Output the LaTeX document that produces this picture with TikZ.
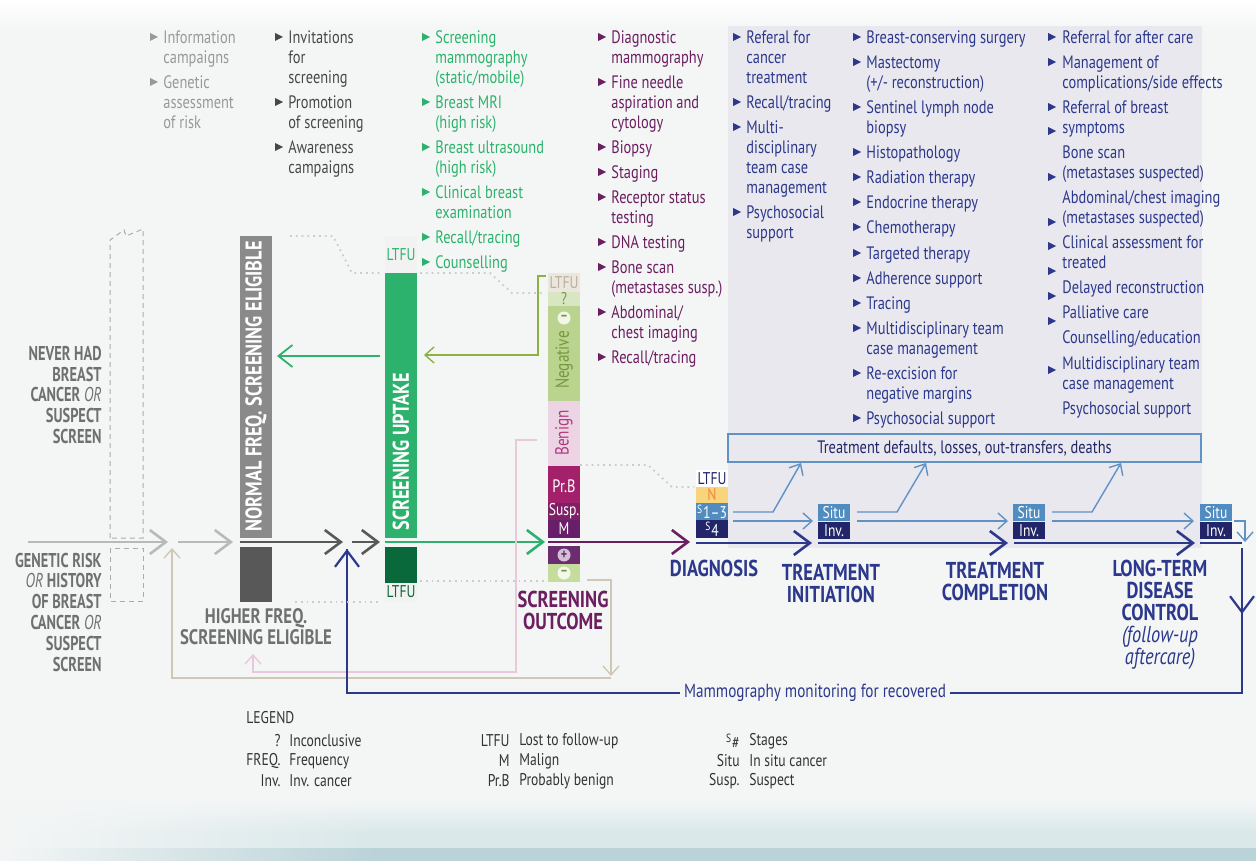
\documentclass[tikz,border=0pt]{standalone}
\usepackage{fontspec}
\setmainfont{PT Sans}[FakeStretch=0.8]
\newfontfamily\narrowfont{PT Sans}[FakeStretch=0.72]
\usetikzlibrary{arrows.meta,fadings}

\definecolor{bg}{RGB}{244,246,246}
\definecolor{panel}{RGB}{233,232,239}
\definecolor{bandl}{RGB}{218,232,234}
\definecolor{band}{RGB}{186,211,216}
\definecolor{paleg}{RGB}{152,152,152}
\definecolor{darkg}{RGB}{72,72,72}
\definecolor{lblg}{RGB}{112,112,112}
\definecolor{barg}{RGB}{138,138,138}
\definecolor{bard}{RGB}{88,88,88}
\definecolor{scrgreen}{RGB}{44,178,108}
\definecolor{dkgreen}{RGB}{9,105,58}
\definecolor{plum}{RGB}{108,30,96}
\definecolor{navy}{RGB}{44,56,140}
\definecolor{ink}{RGB}{34,38,104}
\definecolor{steel}{RGB}{80,140,192}
\definecolor{sky}{RGB}{96,146,198}
\definecolor{ltfuf}{RGB}{236,231,222}
\definecolor{ltfut}{RGB}{186,174,156}
\definecolor{qf}{RGB}{216,230,194}
\definecolor{negf}{RGB}{186,212,144}
\definecolor{negt}{RGB}{118,152,60}
\definecolor{benf}{RGB}{236,212,228}
\definecolor{bent}{RGB}{178,60,128}
\definecolor{prbf}{RGB}{163,33,106}
\definecolor{suspf}{RGB}{126,32,102}
\definecolor{malf}{RGB}{104,30,104}
\definecolor{posf}{RGB}{108,44,112}
\definecolor{minf}{RGB}{198,220,156}
\definecolor{olive}{RGB}{140,178,66}
\definecolor{pinkl}{RGB}{234,200,218}
\definecolor{beige}{RGB}{208,199,180}
\definecolor{yel}{RGB}{248,212,124}
\definecolor{orng}{RGB}{240,136,60}
\definecolor{legt}{RGB}{50,50,50}

\tikzset{
  item/.style={inner sep=0pt, anchor=north west, align=left, font=\fontsize{9}{10}\selectfont},
  lbl/.style={inner sep=0pt, align=center, font=\fontsize{10.5}{10.5}\selectfont\bfseries},
  side/.style={inner sep=0pt, align=right, anchor=east, text=lblg, font=\narrowfont\fontsize{10}{10.4}\selectfont\bfseries},
  stage/.style={inner sep=0pt, align=center, text=navy, font=\fontsize{11.5}{11}\selectfont\bfseries},
  bartxt/.style={inner sep=0pt, rotate=90, anchor=west, text=white, font=\fontsize{11.4}{11.4}\selectfont\bfseries},
  segtxt/.style={inner sep=0pt, font=\fontsize{8.5}{9}\selectfont},
  sign/.style={circle, inner sep=0pt, minimum size=6.5pt, font=\fontsize{7.5}{7.5}\selectfont\bfseries},
  sbox/.style={inner sep=0pt, minimum width=16pt, minimum height=8.5pt, text=white, font=\fontsize{8.5}{9}\selectfont},
  leg/.style={inner sep=0pt, text=legt, font=\fontsize{8.5}{9}\selectfont},
  flow/.style={line width=1.4pt, -{Straight Barb[length=8pt,width=12pt,line width=1.3pt]}},
  back/.style={line width=0.7pt, -{Straight Barb[length=4.5pt,width=8pt,line width=0.7pt]}},
  trail/.style={gray!40, line width=0.9pt, dotted},
  ghost/.style={gray!65, line width=0.5pt, dash pattern=on 2.5pt off 2pt},
}

\newcommand\bul[5]{%
  \fill[#2] (#3,#4-4) -- (#3+8,#4) -- (#3,#4+4) -- cycle;
  \node[item, text=#2] (#1) at (#3+13,#4-8) {\strut #5};}

\begin{document}
\begin{tikzpicture}[x=0.5pt,y=-0.5pt]
\useasboundingbox (0,0) rectangle (1256,861);
\fill[bg] (0,0) rectangle (1256,861);
\shade[top color=white, bottom color=bg] (0,0) rectangle (1256,30);
\shade[top color=bg, bottom color=bandl] (0,800) rectangle (1256,832);
\fill[bandl] (0,832) rectangle (1256,848);
\fill[band] (0,848) rectangle (1256,861);
\fill[bg, path fading=east] (0,800) rectangle (380,861);
\fill[panel] (728,26) rectangle (1202,548);

% activity lists
\bul{c1a}{paleg}{150}{37}{Information\\campaigns}
\bul{c1b}{paleg}{150}{82}{Genetic\\assessment\\of risk}

\bul{c2a}{darkg}{275}{37}{Invitations\\for\\screening}
\bul{c2b}{darkg}{275}{102}{Promotion\\of screening}
\bul{c2c}{darkg}{275}{147}{Awareness\\campaigns}

\bul{c3a}{scrgreen}{422}{37}{Screening\\mammography\\(static/mobile)}
\bul{c3b}{scrgreen}{422}{102}{Breast MRI\\(high risk)}
\bul{c3c}{scrgreen}{422}{147}{Breast ultrasound\\(high risk)}
\bul{c3d}{scrgreen}{422}{192}{Clinical breast\\examination}
\bul{c3e}{scrgreen}{422}{237}{Recall/tracing}
\bul{c3f}{scrgreen}{422}{262}{Counselling}

\bul{c4a}{plum}{598}{37}{Diagnostic\\mammography}
\bul{c4b}{plum}{598}{82}{Fine needle\\aspiration and\\cytology}
\bul{c4c}{plum}{598}{147}{Biopsy}
\bul{c4d}{plum}{598}{172}{Staging}
\bul{c4e}{plum}{598}{197}{Receptor status\\testing}
\bul{c4f}{plum}{598}{242}{DNA testing}
\bul{c4g}{plum}{598}{267}{Bone scan\\(metastases susp.)}
\bul{c4h}{plum}{598}{312}{Abdominal/\\chest imaging}
\bul{c4i}{plum}{598}{357}{Recall/tracing}

\bul{c5a}{navy}{733}{37}{Referal for\\cancer\\treatment}
\bul{c5b}{navy}{733}{102}{Recall/tracing}
\bul{c5c}{navy}{733}{127}{Multi-\\disciplinary\\team case\\management}
\bul{c5d}{navy}{733}{212}{Psychosocial\\support}

\bul{c6a}{navy}{853}{37}{Breast-conserving surgery}
\bul{c6b}{navy}{853}{62}{Mastectomy\\(+/- reconstruction)}
\bul{c6c}{navy}{853}{107}{Sentinel lymph node\\biopsy}
\bul{c6d}{navy}{853}{152}{Histopathology}
\bul{c6e}{navy}{853}{177}{Radiation therapy}
\bul{c6f}{navy}{853}{202}{Endocrine therapy}
\bul{c6g}{navy}{853}{227}{Chemotherapy}
\bul{c6h}{navy}{853}{253}{Targeted therapy}
\bul{c6i}{navy}{853}{278}{Adherence support}
\bul{c6j}{navy}{853}{303}{Tracing}
\bul{c6k}{navy}{853}{328}{Multidisciplinary team\\case management}
\bul{c6l}{navy}{853}{373}{Re-excision for\\negative margins}
\bul{c6m}{navy}{853}{418}{Psychosocial support}

\foreach \y in {37,62,107,131,177,222,246,271,296,321,370}
  \fill[navy] (1048,\y-4) -- (1056,\y) -- (1048,\y+4) -- cycle;
\node[item, text=navy] (c7a) at (1062,29) {\strut Referral for after care};
\node[item, text=navy] (c7b) at (1062,54) {\strut Management of\\complications/side effects};
\node[item, text=navy] (c7c) at (1062,99) {\strut Referral of breast\\symptoms};
\node[item, text=navy] (c7d) at (1062,144) {\strut Bone scan\\(metastases suspected)};
\node[item, text=navy] (c7e) at (1062,189) {\strut Abdominal/chest imaging\\(metastases suspected)};
\node[item, text=navy] (c7f) at (1062,234) {\strut Clinical assessment for\\treated};
\node[item, text=navy] (c7g) at (1062,279) {\strut Delayed reconstruction};
\node[item, text=navy] (c7h) at (1062,304) {\strut Palliative care};
\node[item, text=navy] (c7i) at (1062,329) {\strut Counselling/education};
\node[item, text=navy] (c7j) at (1062,355) {\strut Multidisciplinary team\\case management};
\node[item, text=navy] (c7k) at (1062,400) {\strut Psychosocial support};

% population
\draw[ghost] (110,538) -- (110,240) -- (124,230) -- (126,236) -- (143,229) -- (143,538) -- cycle;
\draw[ghost] (110,548) rectangle (143,601);
\node[side] (never) at (102,395) {NEVER HAD\\BREAST\\CANCER \textmd{\textit{OR}}\\SUSPECT\\SCREEN};
\node[side] (genrisk) at (102,612) {GENETIC RISK\\\textmd{\textit{OR}} HISTORY\\OF BREAST\\CANCER \textmd{\textit{OR}}\\SUSPECT\\SCREEN};

% eligible
\fill[barg] (240,236) rectangle (272,538);
\node[bartxt] (normal) at (256,532) {NORMAL FREQ. SCREENING ELIGIBLE};
\fill[bard] (240,547) rectangle (272,602);
\node[lbl, text=lblg] (higher) at (256,627) {HIGHER FREQ.\\SCREENING ELIGIBLE};

% uptake
\fill[gray!10] (385,236) rectangle (417,273);
\node[segtxt, text=scrgreen] (ltfu1) at (401,255) {LTFU};
\fill[scrgreen] (385,273) rectangle (417,538);
\node[bartxt] (uptake) at (401,531) {SCREENING UPTAKE};
\fill[dkgreen] (385,547) rectangle (417,583);
\fill[gray!10] (385,583) rectangle (417,602);
\node[segtxt, text=dkgreen] (ltfu2) at (401,592) {LTFU};

% outcome
\fill[ltfuf] (548,273) rectangle (580,292);
\node[segtxt, text=ltfut] (ltfu3) at (564,283) {LTFU};
\fill[qf] (548,292) rectangle (580,306);
\node[segtxt, text=negt] (inconcl) at (564,299) {?};
\fill[negf] (548,306) rectangle (580,401);
\node[sign, fill=white!80!negf, text=negt] (negsign) at (564,318) {--};
\node[segtxt, rotate=90, text=negt, font=\fontsize{9.5}{9.5}\selectfont] (neg) at (564,360) {Negative};
\fill[benf] (548,401) rectangle (580,466);
\node[segtxt, rotate=90, text=bent, font=\fontsize{9.5}{9.5}\selectfont] (benign) at (564,433) {Benign};
\fill[prbf] (548,466) rectangle (580,503);
\node[segtxt, text=white, font=\fontsize{9}{9}\selectfont] (prb) at (564,486) {Pr.B};
\fill[suspf] (548,503) rectangle (580,520);
\node[segtxt, text=white] (susp) at (564,511) {Susp.};
\fill[malf] (548,520) rectangle (580,538);
\node[segtxt, text=white] (mal) at (564,529) {M};
\fill[posf] (548,546) rectangle (580,564);
\node[sign, fill=posf!30!white, text=posf] (possign) at (564,555) {+};
\fill[minf] (548,564) rectangle (580,582);
\node[sign, fill=white!80!minf, text=negt] (minsign) at (564,573) {--};
\node[stage, text=plum] (outcome) at (563,610) {SCREENING\\OUTCOME};

% diagnosis
\fill[white] (696,470) rectangle (728,487);
\node[segtxt, text=ink] (ltfu4) at (712,479) {LTFU};
\fill[yel] (696,487) rectangle (728,503);
\node[segtxt, text=orng] (nstage) at (712,495) {N};
\fill[steel] (696,503) rectangle (728,520);
\node[segtxt, text=white] (s13) at (712,512) {\textsuperscript{S}1--3};
\fill[ink] (696,520) rectangle (728,538);
\node[segtxt, text=white] (s4) at (712,529) {\textsuperscript{S}4};

\foreach \n/\x in {1/834,2/1029,3/1216} {
  \node[sbox, fill=steel] (situ\n) at (\x,512.5) {Situ};
  \node[sbox, fill=ink, anchor=north] (inv\n) at (situ\n.south) {Inv.};
}
\node[draw=sky, line width=0.8pt, minimum width=236.5pt, minimum height=14pt, inner sep=0pt, text=ink, font=\fontsize{9}{9}\selectfont] (defaults) at (964.5,448) {Treatment defaults, losses, out-transfers, deaths};

\node[stage] (diag) at (714,568) {DIAGNOSIS};
\node[stage] (init) at (831,583) {TREATMENT\\INITIATION};
\node[stage] (compl) at (995,581) {TREATMENT\\COMPLETION};
\node[stage] (ltdc) at (1160,615) {LONG-TERM\\DISEASE\\CONTROL\\\textmd{\textit{(follow-up}}\\\textmd{\textit{aftercare)}}};

% main flow
\coordinate (g0) at (28,542);  \coordinate (g1) at (168,542);
\coordinate (g2) at (178,542); \coordinate (g3) at (233,542);
\coordinate (d0) at (240,542); \coordinate (d1) at (343,542);
\coordinate (d2) at (352,542); \coordinate (d3) at (380,542);
\coordinate (e0) at (385,542); \coordinate (e1) at (545,542);
\coordinate (p0) at (548,542); \coordinate (p1) at (690,542);
\coordinate (n0) at (696,543); \coordinate (n1) at (812,543);
\coordinate (n2) at (818,543); \coordinate (n3) at (1008,543);
\coordinate (n4) at (1014,543); \coordinate (n5) at (1195,543);
\coordinate (n6) at (1200,543); \coordinate (n7) at (1242,543);
\draw[flow, gray!55] (g0) -- (g1);
\draw[flow, gray!55] (g2) -- (g3);
\draw[flow, bard] (d0) -- (d1);
\draw[flow, bard] (d2) -- (d3);
\draw[flow, scrgreen] (e0) -- (e1);
\draw[flow, plum] (p0) -- (p1);
\draw[flow, navy] (n0) -- (n1);
\draw[flow, navy] (n2) -- (n3);
\draw[flow, navy] (n4) -- (n5);
\draw[navy, line width=1.4pt] (n6) -- (n7);

% losses
\coordinate (l0) at (733,512); \coordinate (l1) at (773,512); \coordinate (l2) at (801,463);
\coordinate (l3) at (857,512); \coordinate (l4) at (897,512); \coordinate (l5) at (926,463);
\coordinate (l6) at (1052,512); \coordinate (l7) at (1092,512); \coordinate (l8) at (1121,463);
\draw[back, sky] (l0) -- (l1) -- (l2);
\draw[back, sky] (l3) -- (l4) -- (l5);
\draw[back, sky] (l6) -- (l7) -- (l8);
\coordinate (m0) at (733,521); \coordinate (m1) at (813,521);
\coordinate (m2) at (857,521); \coordinate (m3) at (1008,521);
\coordinate (m4) at (1052,521); \coordinate (m5) at (1194,521);
\draw[back, sky] (m0) -- (m1);
\draw[back, sky] (m2) -- (m3);
\draw[back, sky] (m4) -- (m5);
\coordinate (r0) at (1234,521); \coordinate (r1) at (1245,542);
\draw[back, sky] (r0) -| (r1);

% returns
\coordinate (t0) at (546,276); \coordinate (t1) at (424,355);
\draw[back, olive, line width=1pt] (t0) -- (538,276) |- (t1);
\coordinate (u0) at (380,356); \coordinate (u1) at (277,356);
\draw[scrgreen, line width=0.9pt, -{Straight Barb[length=7pt,width=11pt,line width=0.9pt]}] (u0) -- (u1);
\coordinate (k0) at (537,440); \coordinate (k1) at (253,654);
\draw[back, pinkl, line width=0.8pt] (k0) -- (516,440) |- (253,672) -- (k1);
\coordinate (h0) at (587,580); \coordinate (h1) at (611,676);
\coordinate (h2) at (611,678); \coordinate (h3) at (172,548);
\draw[back, beige, line width=0.8pt] (h0) -| (h1);
\draw[back, beige, line width=0.8pt] (h2) -| (h3);
\coordinate (v0) at (1242,548); \coordinate (v1) at (1242,614); \coordinate (v2) at (347,549);
\draw[navy, line width=1.1pt] (v0) -- (1242,693) -| (v2);
\draw[navy, line width=1.1pt, -{Straight Barb[length=8pt,width=12pt,line width=1.1pt]}] (v0) -- (v1);
\draw[navy, line width=1.1pt, -{Straight Barb[length=8pt,width=12pt,line width=1.1pt]}] (347,600) -- (v2);
\node[fill=bg, inner xsep=2pt, inner ysep=1pt, text=navy, font=\fontsize{9.5}{9.5}\selectfont] (mammo) at (815,693) {Mammography monitoring for recovered};

\draw[trail] (290,236) -- (333,236) -- (352,273) -- (380,273);
\draw[trail] (420,273) -- (490,273) -- (512,293) -- (545,293);
\draw[trail] (580,465) -- (648,465) -- (672,487) -- (694,487);
\draw[trail] (295,602) -- (380,602);
\draw[trail] (420,581) -- (547,581);

% legend
\node[leg, anchor=west] (legend) at (246,718) {LEGEND};
\node[leg, anchor=east] (k1a) at (281,741) {?};
\node[leg, anchor=west] (k1b) at (289,741) {Inconclusive};
\node[leg, anchor=east] (k2a) at (281,761) {FREQ.};
\node[leg, anchor=west] (k2b) at (289,761) {Frequency};
\node[leg, anchor=east] (k3a) at (281,781) {Inv.};
\node[leg, anchor=west] (k3b) at (289,781) {Inv. cancer};
\node[leg, anchor=east] (k4a) at (510,741) {LTFU};
\node[leg, anchor=west] (k4b) at (519,741) {Lost to follow-up};
\node[leg, anchor=east] (k5a) at (510,761) {M};
\node[leg, anchor=west] (k5b) at (519,761) {Malign};
\node[leg, anchor=east] (k6a) at (510,781) {Pr.B};
\node[leg, anchor=west] (k6b) at (519,781) {Probably benign};
\node[leg, anchor=east] (k7a) at (740,741) {\textsuperscript{S}\#};
\node[leg, anchor=west] (k7b) at (749,741) {Stages};
\node[leg, anchor=east] (k8a) at (740,761) {Situ};
\node[leg, anchor=west] (k8b) at (749,761) {In situ cancer};
\node[leg, anchor=east] (k9a) at (740,781) {Susp.};
\node[leg, anchor=west] (k9b) at (749,781) {Suspect};
\end{tikzpicture}
\end{document}
